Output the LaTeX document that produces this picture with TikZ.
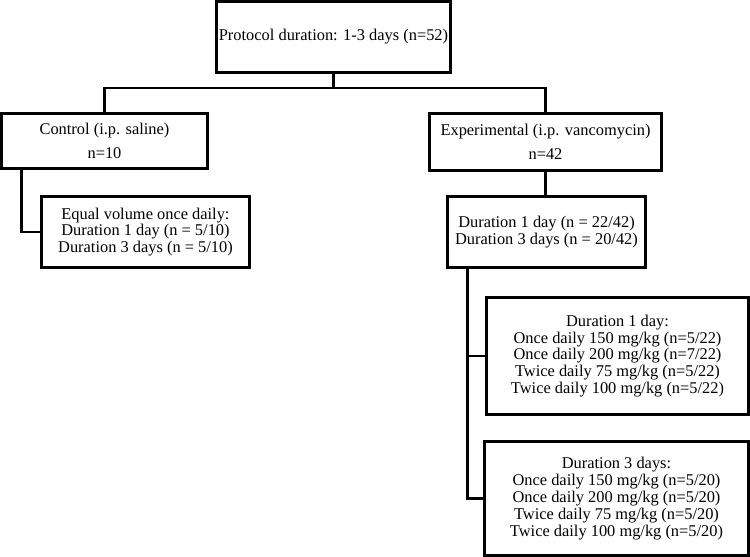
\documentclass[tikz,border=0pt]{standalone}
\usepackage{fontspec}
\setmainfont{Liberation Serif}
\begin{document}
\begin{tikzpicture}[x=0.75pt,y=-0.75pt,
  box/.style={inner sep=0pt, align=center,
    font=\fontsize{12.3}{12.6}\selectfont},
  conn/.style={line width=2pt}]
\useasboundingbox (0,0) rectangle (750,557);
\node[box, minimum width=174.75pt, minimum height=52.5pt] (top) at (333.5,37)
  {Protocol duration: 1-3 days (n=52)};
\node[box, minimum width=153.75pt, minimum height=40.5pt] (ctrl) at (104.5,141)
  {Control (i.p. saline)\\[5pt] n=10};
\node[box, minimum width=173.25pt, minimum height=42pt] (exp) at (545.5,142)
  {Experimental (i.p. vancomycin)\\[5pt] n=42};
\node[box, minimum width=155.25pt, minimum height=52.5pt] (cchild) at (145.5,232)
  {Equal volume once daily:\\ Duration 1 day (n = 5/10)\\ Duration 3 days (n = 5/10)};
\node[box, minimum width=147.75pt, minimum height=52.5pt] (echild) at (546.5,232)
  {Duration 1 day (n = 22/42)\\ Duration 3 days (n = 20/42)};
\node[box, minimum width=195.75pt, minimum height=87pt] (dayone) at (617.5,356)
  {Duration 1 day:\\ Once daily 150 mg/kg (n=5/22)\\ Once daily 200 mg/kg (n=7/22)\\ Twice daily 75 mg/kg (n=5/22)\\ Twice daily 100 mg/kg (n=5/22)};
\node[box, minimum width=197.25pt, minimum height=84.75pt] (daythree) at (616.5,498.5)
  {Duration 3 days:\\ Once daily 150 mg/kg (n=5/20)\\ Once daily 200 mg/kg (n=5/20)\\ Twice daily 75 mg/kg (n=5/20)\\ Twice daily 100 mg/kg (n=5/20)};
\foreach \n in {top,ctrl,exp,cchild,echild,dayone,daythree}
  \draw[conn] (\n.north west) rectangle (\n.south east);
\coordinate (split) at (333.5,88);
\draw[conn] (top.south) -- (split);
\draw[conn] (split) -| (ctrl.north);
\draw[conn] (split) -| (exp.north);
\draw[conn] ([xshift=15pt]ctrl.south west) |- (cchild.west);
\draw[conn] (exp.south) -- (exp.south |- echild.north);
\draw[conn] ([xshift=15pt]echild.south west) |- (dayone.west);
\draw[conn] ([xshift=15pt]echild.south west) |- (daythree.west);
\end{tikzpicture}
\end{document}
